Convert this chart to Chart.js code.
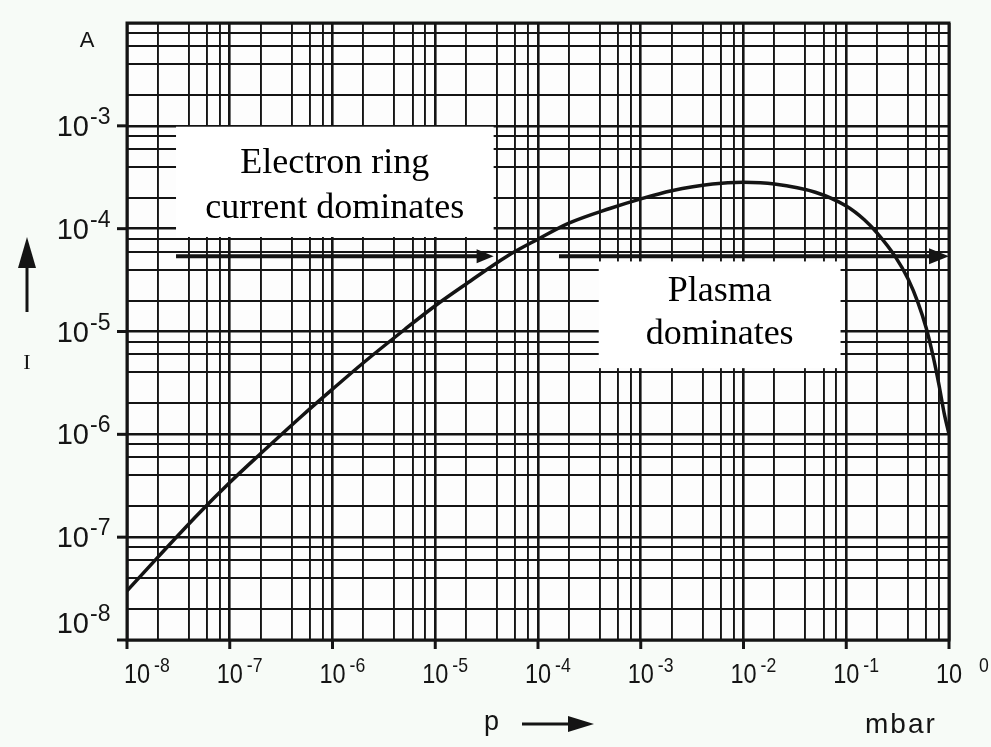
<!DOCTYPE html>
<html>
<head>
<meta charset="utf-8">
<script src="https://cdn.jsdelivr.net/npm/chart.js@4.4.1/dist/chart.umd.min.js"></script>
<style>
  html, body { margin: 0; padding: 0; background: #f7fbf7; }
  #wrap { width: 991px; height: 747px; position: relative; }
</style>
</head>
<body>
<div id="wrap"><canvas id="chart"></canvas></div>
<script>
// pressure p in mbar, ion current I in A
const pressure = [1e-8, 2e-8, 5e-8, 1e-7, 2e-7, 5e-7, 1e-6, 2e-6, 5e-6, 1e-5, 2e-5, 5e-5,
  1e-4, 2e-4, 5e-4, 1e-3, 2e-3, 5e-3, 1e-2, 2e-2, 5e-2, 1e-1, 1.5e-1, 2e-1, 3e-1, 4e-1, 5e-1,
  6e-1, 7e-1, 8e-1, 9e-1, 1];
const current = [3.0e-8, 6.4e-8, 1.7e-7, 3.4e-7, 6.5e-7, 1.5e-6, 2.75e-6, 4.97e-6, 1.04e-5, 1.78e-5, 2.9e-5, 5.4e-5,
  7.9e-5, 1.13e-4, 1.57e-4, 1.95e-4, 2.34e-4, 2.72e-4, 2.82e-4, 2.72e-4, 2.26e-4, 1.66e-4, 1.22e-4, 9.06e-5, 5.35e-5,
  3.24e-5, 1.9e-5, 1.08e-5, 5.75e-6, 3.0e-6, 1.58e-6, 1e-6];

const xDecades = [-8, -7, -6, -5, -4, -3, -2, -1, 0];
const yDecades = [-8, -7, -6, -5, -4, -3, -2];
const minorSteps = [1, 2, 4, 6, 8];
const xTickExps = ['-8', '-7', '-6', '-5', '-4', '-3', '-2', '-1', '0'];
const yTickExps = ['-8', '-7', '-6', '-5', '-4', '-3'];

const regionBoxes = [
  { x0: 3.0e-8, x1: 3.7e-5, y0: 9.8e-4, y1: 8.3e-5, lines: ['Electron ring', 'current dominates'], base: [46, 91] },
  { x0: 3.9e-4, x1: 8.8e-2, y0: 4.8e-5, y1: 4.4e-6, lines: ['Plasma', 'dominates'], base: [40, 83] },
];
const regionArrows = [
  { x0: 3.0e-8, x1: 3.7e-5, y: 5.4e-5, head: 17, half: 7 },
  { x0: 1.6e-4, x1: 1.0, y: 5.4e-5, head: 20, half: 8 },
];

const INK = '#141414';

function gridValues(decades) {
  const out = [];
  for (let i = 0; i < decades.length - 1; i++) {
    for (const m of minorSteps) out.push(m * Math.pow(10, decades[i]));
  }
  out.push(Math.pow(10, decades[decades.length - 1]));
  return out;
}
function isDecade(v) {
  const l = Math.log10(v);
  return Math.abs(l - Math.round(l)) < 1e-6;
}

function text(ctx, s, x, y, font, align, sx) {
  ctx.save();
  ctx.font = font;
  ctx.textAlign = align || 'left';
  ctx.textBaseline = 'alphabetic';
  ctx.translate(x, y);
  ctx.scale(sx || 1, 1);
  ctx.fillText(s, 0, 0);
  ctx.restore();
}
function measure(ctx, s, font) {
  ctx.save(); ctx.font = font;
  const w = ctx.measureText(s).width;
  ctx.restore();
  return w;
}
function arrow(ctx, x0, y0, x1, y1, head, half, lw) {
  const ang = Math.atan2(y1 - y0, x1 - x0);
  const bx = x1 - Math.cos(ang) * head, by = y1 - Math.sin(ang) * head;
  ctx.save();
  ctx.strokeStyle = INK; ctx.fillStyle = INK; ctx.lineWidth = lw;
  ctx.beginPath(); ctx.moveTo(x0, y0); ctx.lineTo(bx + Math.cos(ang), by + Math.sin(ang)); ctx.stroke();
  ctx.beginPath();
  ctx.moveTo(x1, y1);
  ctx.lineTo(bx - Math.sin(ang) * half, by + Math.cos(ang) * half);
  ctx.lineTo(bx + Math.sin(ang) * half, by - Math.cos(ang) * half);
  ctx.closePath(); ctx.fill();
  ctx.restore();
}

const paperPlugin = {
  id: 'paper',
  beforeDraw(chart) {
    const { ctx, chartArea: a } = chart;
    ctx.save();
    ctx.fillStyle = '#fdfdfd';
    ctx.fillRect(a.left, a.top, a.right - a.left, a.bottom - a.top);
    ctx.restore();
  },
  afterDatasetsDraw(chart) {
    const { ctx, scales: { x, y } } = chart;
    regionArrows.forEach(r => {
      const py = y.getPixelForValue(r.y);
      arrow(ctx, x.getPixelForValue(r.x0), py, x.getPixelForValue(r.x1), py, r.head, r.half, 4);
    });
    regionBoxes.forEach(b => {
      const l = x.getPixelForValue(b.x0), r = x.getPixelForValue(b.x1);
      const t = y.getPixelForValue(b.y0), btm = y.getPixelForValue(b.y1);
      ctx.save();
      ctx.fillStyle = '#ffffff';
      ctx.fillRect(l, t, r - l, btm - t);
      ctx.fillStyle = '#000';
      b.lines.forEach((s, i) => text(ctx, s, (l + r) / 2, t + b.base[i], '36px "Liberation Serif", serif', 'center'));
      ctx.restore();
    });
  },
  afterDraw(chart) {
    const { ctx, chartArea: a, scales: { x, y } } = chart;
    ctx.save();
    ctx.strokeStyle = INK; ctx.fillStyle = INK;
    // frame
    ctx.lineWidth = 3;
    ctx.strokeRect(a.left, a.top, a.right - a.left, a.bottom - a.top);
    // outward decade ticks
    xDecades.forEach(d => {
      const px = x.getPixelForValue(Math.pow(10, d));
      ctx.beginPath(); ctx.moveTo(px, a.bottom); ctx.lineTo(px, a.bottom + 9); ctx.stroke();
    });
    yTickExps.forEach((e, i) => {
      const py = y.getPixelForValue(Math.pow(10, yDecades[i]));
      ctx.beginPath(); ctx.moveTo(a.left - 10, py); ctx.lineTo(a.left, py); ctx.stroke();
    });

    // x tick labels
    const sx = 0.84;
    const bigX = '28px "Liberation Sans", Arial, sans-serif';
    const supX = '21px "Liberation Sans", Arial, sans-serif';
    xTickExps.forEach((e, i) => {
      const px = x.getPixelForValue(Math.pow(10, xDecades[i]));
      const w10 = measure(ctx, '10', bigX) * sx;
      const cx = Math.max(px, a.left + 10);
      text(ctx, '10', cx - w10 / 2, a.bottom + 43, bigX, 'left', sx);
      text(ctx, e, cx + w10 / 2 + (e === '0' ? 17 : 4), a.bottom + 32, supX, 'left', sx);
    });

    // y tick labels
    const bigY = '29px "Liberation Sans", Arial, sans-serif';
    const supY = '23px "Liberation Sans", Arial, sans-serif';
    yTickExps.forEach((e, i) => {
      const py = y.getPixelForValue(Math.pow(10, yDecades[i]));
      const shift = i === 0 ? -17 : 0;
      text(ctx, '10', 89, py + 10 + shift, bigY, 'right');
      text(ctx, e, 90, py - 2 + shift, supY, 'left');
    });

    // axis names and units
    text(ctx, 'A', 87, 47, '22px "Liberation Sans", Arial, sans-serif', 'center');
    text(ctx, 'I', 27, 369, '22px "Liberation Serif", serif', 'center');
    arrow(ctx, 27, 312, 27, 237, 31, 9, 3);
    text(ctx, 'p', 484, 730, '27px "Liberation Sans", Arial, sans-serif', 'left');
    arrow(ctx, 522, 724, 594, 724, 26, 8, 3);
    ctx.letterSpacing = '2px';
    text(ctx, 'mbar', 865, 733, '28px "Liberation Sans", Arial, sans-serif', 'left');
    ctx.letterSpacing = '0px';
    ctx.restore();
  }
};

new Chart(document.getElementById('chart'), {
  type: 'line',
  data: {
    datasets: [{
      data: pressure.map((p, i) => ({ x: p, y: current[i] })),
      borderColor: INK,
      borderWidth: 3.5,
      pointRadius: 0,
      cubicInterpolationMode: 'monotone',
      fill: false,
    }],
  },
  options: {
    responsive: true, maintainAspectRatio: false,
    animation: false,
    layout: { padding: { left: 127, right: 42, top: 23, bottom: 107 } },
    plugins: { legend: { display: false }, tooltip: { enabled: false } },
    scales: {
      x: {
        type: 'logarithmic', min: 1e-8, max: 1,
        afterBuildTicks: s => { s.ticks = gridValues(xDecades).map(v => ({ value: v })); },
        ticks: { display: false, autoSkip: false },
        grid: { drawTicks: false, color: INK, lineWidth: c => (c.tick && isDecade(c.tick.value) ? 2.6 : 1.9) },
        border: { display: false },
      },
      y: {
        type: 'logarithmic', min: 1e-8, max: 1e-2,
        afterBuildTicks: s => { s.ticks = gridValues(yDecades).map(v => ({ value: v })); },
        ticks: { display: false, autoSkip: false },
        grid: { drawTicks: false, color: INK, lineWidth: c => (c.tick && isDecade(c.tick.value) ? 2.6 : 1.9) },
        border: { display: false },
      },
    },
  },
  plugins: [paperPlugin],
});
</script>
</body>
</html>
